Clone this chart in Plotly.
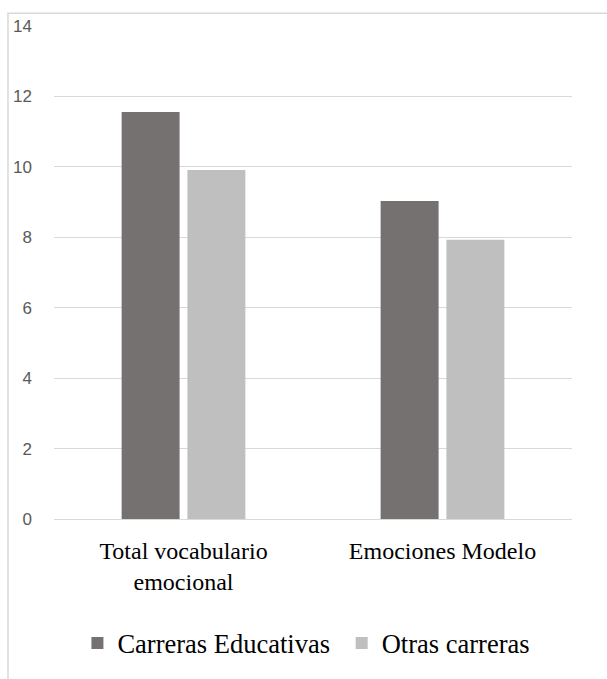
import plotly.graph_objects as go

categories = ["Total vocabulario<br>emocional", "Emociones Modelo"]
series_names = ["Carreras Educativas\u00a0", "Otras carreras"]
carreras_educativas = [11.56, 9.03]
otras_carreras = [9.91, 7.93]
y_ticks = [0, 2, 4, 6, 8, 10, 12, 14]

colors = ["#767171", "#BFBFBF"]
SERIF = "Liberation Serif, Times New Roman, DejaVu Serif, serif"
SANS = "Liberation Sans, Arial, DejaVu Sans, sans-serif"

fig = go.Figure()
for name, vals, col in zip(series_names, [carreras_educativas, otras_carreras], colors):
    fig.add_trace(go.Bar(x=categories, y=vals, name=name,
                         marker=dict(color=col, line=dict(width=0))))

fig.update_layout(
    width=607, height=679,
    margin=dict(l=54, r=35, t=26, b=157),
    paper_bgcolor="white", plot_bgcolor="white",
    barmode="group", bargap=0.492, bargroupgap=0.119,
    showlegend=True,
    legend=dict(orientation="h", x=0.4873, xanchor="center", y=-0.252, yanchor="middle",
                font=dict(family=SERIF, size=26.5, color="black"),
                bgcolor="rgba(0,0,0,0)"),
    xaxis=dict(showgrid=False, showline=False, zeroline=False, ticks="",
               ticklabelstandoff=15,
               tickfont=dict(family=SERIF, size=24, color="black")),
    yaxis=dict(range=[0, 14], tickvals=y_ticks, showgrid=True, gridcolor="#D9D9D9",
               gridwidth=1.3, zeroline=True, zerolinecolor="#D9D9D9", zerolinewidth=1.3,
               showline=False, ticks="", ticklabelstandoff=21,
               tickfont=dict(family=SANS, size=17, color="#595959")),
    shapes=[dict(type="rect", xref="paper", yref="paper",
                 x0=-0.0888, x1=1.3, y0=-0.6, y1=1.026,
                 line=dict(color="#D9D9D9", width=1.5), layer="below")],
)

fig.write_html("out.html")
